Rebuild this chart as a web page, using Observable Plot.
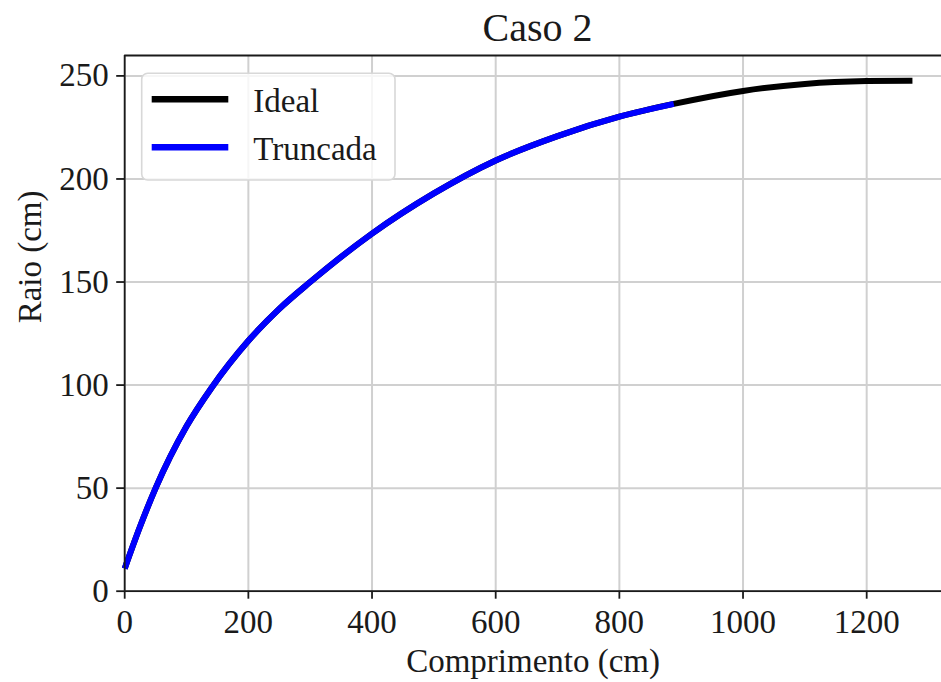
<!DOCTYPE html>
<html>
<head>
<meta charset="utf-8">
<script src="https://cdn.jsdelivr.net/npm/d3@7"></script>
<script src="https://cdn.jsdelivr.net/npm/@observablehq/plot@0.6"></script>
<style>
  html, body { margin: 0; padding: 0; background: #fff; overflow: hidden; }
  #fig { position: relative; width: 941px; height: 682px; font-family: "Liberation Serif", "Times New Roman", serif; color: #1a1a1a; }
  #titulo { position: absolute; left: 124px; width: 827px; top: 8px; text-align: center; font-size: 40px; line-height: 1; }
  #grafico { position: absolute; left: 0; top: 50px; }
  #legenda { position: absolute; left: 0; top: 0; }
</style>
</head>
<body>
<div id="fig">
  <div id="titulo"></div>
  <div id="grafico"></div>
  <svg id="legenda" width="941" height="682"></svg>
</div>
<script>
// Perfil do raio ao longo do comprimento
const titulo = "Caso 2";
const rotuloX = "Comprimento (cm)";
const rotuloY = "Raio (cm)";
const series = ["Ideal", "Truncada"];
const cores = ["#000000", "#0000ff"];

const comprimento = [0, 25, 50, 100, 140, 200, 250, 300, 400, 500, 600, 700, 800, 888, 1000, 1100, 1200, 1274];
const raioIdeal   = [11, 31.5, 50, 80, 98.5, 121.5, 137, 150, 173.5, 193, 209, 220.8, 230.2, 236.4, 242.7, 246.1, 247.5, 247.7];
const fimTruncada = 888;

const ticksX = [0, 200, 400, 600, 800, 1000, 1200];
const ticksY = [0, 50, 100, 150, 200, 250];
const dominioX = [0, 1337];
const dominioY = [0, 259.9];

const ideal = comprimento.map((c, i) => ({c, r: raioIdeal[i]}));
const truncada = ideal.filter(d => d.c <= fimTruncada);

document.getElementById("titulo").textContent = titulo;

const fonte = "'Liberation Serif', 'Times New Roman', serif";
const corEixo = "#1a1a1a";
const corGrade = "#d0d0d0";

const grafico = Plot.plot({
  width: 941,
  height: 632,
  marginTop: 5,
  marginBottom: 91.3,
  marginLeft: 124.2,
  marginRight: 0,
  style: {fontFamily: fonte, fontSize: "33px", color: corEixo, background: "transparent", overflow: "visible"},
  x: {domain: dominioX, range: [124.2, 950.9]},
  y: {domain: dominioY},
  marks: [
    Plot.gridX(ticksX, {stroke: corGrade, strokeOpacity: 1, strokeWidth: 2}),
    Plot.gridY(ticksY, {stroke: corGrade, strokeOpacity: 1, strokeWidth: 2}),
    Plot.line(ideal, {x: "c", y: "r", stroke: cores[0], strokeWidth: 6, curve: "monotone-x", strokeLinecap: "butt"}),
    Plot.line(truncada, {x: "c", y: "r", stroke: cores[1], strokeWidth: 6, curve: "monotone-x", strokeLinecap: "butt"}),
    Plot.ruleX([dominioX[0]], {stroke: corEixo, strokeWidth: 1.8}),
    Plot.ruleY([dominioY[0]], {stroke: corEixo, strokeWidth: 1.8}),
    Plot.ruleY([dominioY[1]], {stroke: corEixo, strokeWidth: 1.8}),
    Plot.axisX(ticksX, {tickSize: 8, tickPadding: 10, tickFormat: "d", label: null, fontSize: 33, strokeWidth: 1.8}),
    Plot.axisY(ticksY, {tickSize: 8, tickPadding: 8, tickFormat: "d", label: null, fontSize: 33, strokeWidth: 1.8}),
    Plot.text([rotuloX], {frameAnchor: "bottom", dy: 80.3, lineAnchor: "bottom", fontSize: 33, fill: corEixo}),
    Plot.text([rotuloY], {frameAnchor: "left", dx: -84, rotate: -90, lineAnchor: "bottom", fontSize: 33, fill: corEixo})
  ]
});
document.getElementById("grafico").append(grafico);

// Legenda no canto superior esquerdo da área do gráfico
const leg = d3.select("#legenda");
leg.append("rect")
  .attr("x", 141.7).attr("y", 73.3)
  .attr("width", 253.3).attr("height", 106.7)
  .attr("rx", 6).attr("ry", 6)
  .attr("fill", "rgba(255,255,255,0.8)")
  .attr("stroke", "#d8d8d8").attr("stroke-width", 1.6);
series.forEach((s, i) => {
  const yc = 99.3 + i * 48;
  leg.append("line")
    .attr("x1", 151.7).attr("x2", 228.3)
    .attr("y1", yc).attr("y2", yc)
    .attr("stroke", cores[i]).attr("stroke-width", 6.5);
  leg.append("text")
    .attr("x", 253.3).attr("y", yc + 12.2)
    .attr("font-family", fonte).attr("font-size", 33)
    .attr("fill", corEixo)
    .text(s);
});
</script>
</body>
</html>
